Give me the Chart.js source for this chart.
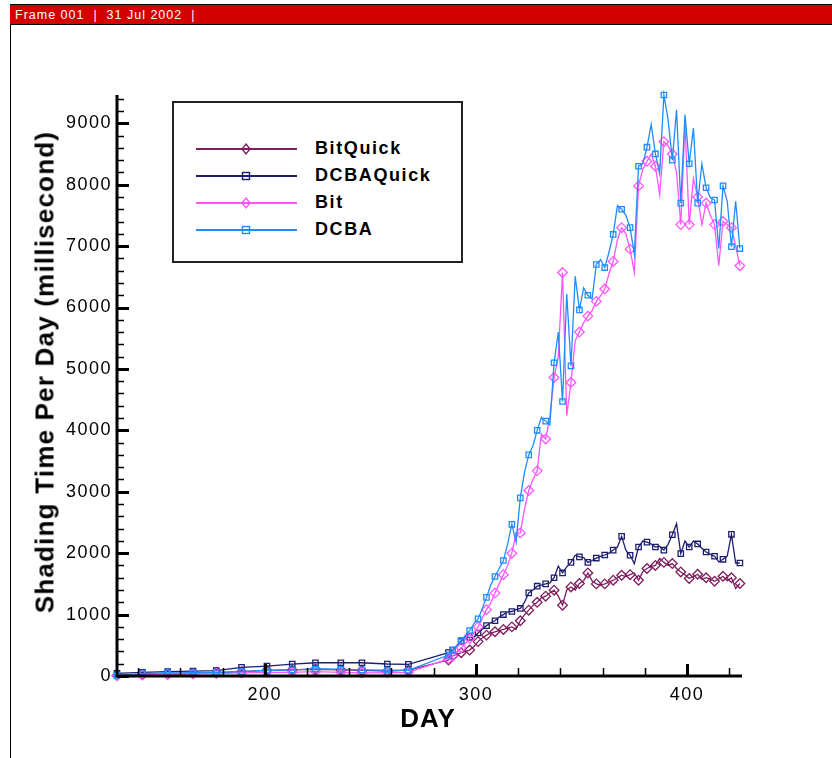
<!DOCTYPE html>
<html><head><meta charset="utf-8">
<script src="https://cdn.jsdelivr.net/npm/chart.js@4.4.0/dist/chart.umd.min.js"></script>
<style>
html,body{margin:0;padding:0;background:#fff;width:832px;height:758px;overflow:hidden;font-family:"Liberation Sans",Arial,sans-serif;}
#wrap{position:relative;width:832px;height:758px;}
#c{position:absolute;left:0;top:0;}
#frameLeft{position:absolute;left:10px;top:5px;width:1px;height:753px;background:#000;}
#bar{position:absolute;left:10px;top:4px;width:822px;height:21px;background:#d40000;border-top:1px solid #000;border-bottom:1px solid #000;color:#fff;font-size:12.5px;line-height:20px;white-space:pre;letter-spacing:1px;padding-left:5px;box-sizing:border-box;}
#legend{position:absolute;left:172px;top:101px;width:291px;height:162px;border:2px solid #222;background:#fff;box-sizing:border-box;}
.row{position:absolute;left:0;height:20px;}
.row svg{position:absolute;left:22px;top:0;}
.row span{position:absolute;left:141px;top:-1px;font-weight:bold;font-size:18px;line-height:20px;letter-spacing:1.6px;color:#000;white-space:nowrap;}
#ytitle{position:absolute;left:45px;top:372px;transform:translate(-50%,-50%) rotate(-90deg);font-weight:bold;font-size:26px;letter-spacing:1.2px;white-space:nowrap;color:#000;}
#xtitle{position:absolute;left:428px;top:718px;transform:translate(-50%,-50%);font-weight:bold;font-size:26px;letter-spacing:1px;white-space:nowrap;color:#000;}
</style></head>
<body>
<div id="wrap">
<canvas id="c" width="832" height="758"></canvas>
<div id="frameLeft"></div>
<div id="bar">Frame 001  |  31 Jul 2002  |</div>
<div id="legend"></div>
<div id="ytitle">Shading Time Per Day (millisecond)</div>
<div id="xtitle">DAY</div>
</div>
<script>
// ---- data ----
const days = [130,142,154,166,177,189,201,213,224,236,246,258,268,287,
  289,291,293,295,297,299,301,303,305,307,
  309,311,313,315,317,319,321,323,325,327,
  329,331,333,335,337,339,341,343,345,347,
  349,351,353,355,357,359,361,363,365,367,
  369,371,373,375,377,379,381,383,385,387,
  389,391,393,395,397,399,401,403,405,407,
  409,411,413,415,417,419,421,423,425];

const bitQuick = [10,20,30,40,55,70,90,100,110,100,90,80,95,260,
  330,350,380,400,422,480,560,620,666,700,
  720,740,758,780,800,760,900,1000,1072,1150,
  1200,1272,1300,1350,1397,1300,1153,1400,1450,1400,
  1506,1550,1678,1550,1500,1478,1500,1530,1560,1600,
  1641,1620,1650,1678,1559,1700,1750,1787,1800,1912,
  1850,1800,1831,1750,1694,1650,1587,1620,1657,1571,
  1600,1580,1543,1580,1624,1550,1600,1425,1506];

const dcbaQuick = [44,60,70,81,87,141,162,195,216,216,216,195,190,380,
  420,480,560,640,630,630,700,760,820,866,
  900,960,1000,1045,1050,1080,1100,1200,1353,1400,
  1462,1480,1500,1516,1600,1787,1678,1776,1850,1966,
  1940,1928,1850,1880,1920,1949,1970,2000,2050,2100,
  2274,2050,1966,1831,2100,2198,2180,2150,2100,2112,
  2050,2144,2300,2480,1993,2198,2100,2198,2150,2080,
  2019,1980,1950,1857,1900,1950,2307,1840,1840];

const bit = [5,15,25,35,40,50,60,60,70,60,50,55,60,280,
  320,390,460,530,610,700,800,940,1080,1190,
  1350,1500,1650,1800,2000,2320,2330,2720,3020,3200,
  3340,3940,3860,4220,4860,5200,6570,4240,4780,5460,
  5600,5750,5860,5950,6100,6190,6300,6550,6750,7100,
  7300,7200,6950,6570,7980,8250,8380,8500,8300,7840,
  8700,8630,8500,8200,7350,9000,7350,8100,7800,7350,
  7700,7500,7350,6680,7400,7350,7300,7000,6680];

const dcba = [10,40,50,55,60,70,90,100,115,110,100,95,90,341,
  420,500,580,660,740,850,930,1100,1280,1480,
  1620,1750,1880,2150,2470,2180,2900,3320,3600,3750,
  4000,4210,4150,4090,5100,5600,4470,6220,5050,6510,
  5960,6320,6200,6140,6700,6780,6650,6900,7190,7660,
  7600,7500,7300,6870,8300,8340,8610,8980,8500,8180,
  9460,9060,8400,9220,7700,9140,8340,8920,7700,8340,
  7950,7790,7750,6960,7980,7730,6990,7730,6960];

const xTicks = [200,300,400];
const yTicks = [0,1000,2000,3000,4000,5000,6000,7000,8000,9000];
const seriesNames = ['BitQuick','DCBAQuick','Bit','DCBA'];
const seriesColors = ['#7e1e5e','#1e1e6e','#ff55ff','#1e8cff'];
const seriesMarkers = ['rectRot','rect','rectRot','rect'];
const seriesValues = [bitQuick, dcbaQuick, bit, dcba];

// ---- legend (HTML) ----
const legend = document.getElementById('legend');
const rowTops = [36, 63, 90, 117];
seriesNames.forEach((name, i) => {
  const row = document.createElement('div');
  row.className = 'row';
  row.style.top = rowTops[i] + 'px';
  const c = seriesColors[i];
  const mk = seriesMarkers[i] === 'rect'
    ? `<rect x="46.5" y="6.5" width="7" height="7" fill="none" stroke="${c}" stroke-width="1.4"/>`
    : `<polygon points="50,5 54,10 50,15 46,10" fill="none" stroke="${c}" stroke-width="1.4"/>`;
  row.innerHTML = `<svg width="101" height="20"><line x1="0" y1="10" x2="101" y2="10" stroke="${c}" stroke-width="2"/>${mk}</svg><span>${name}</span>`;
  legend.appendChild(row);
});

// ---- chart ----
const axesPlugin = {
  id: 'inwardAxes',
  beforeDraw(chart) { chart.ctx.letterSpacing = '1.5px'; },
  afterDraw(chart) {
    const {ctx, chartArea: a, scales: {x, y}} = chart;
    ctx.save();
    ctx.strokeStyle = '#000';
    ctx.lineCap = 'butt';
    ctx.lineWidth = 3;
    ctx.beginPath();
    ctx.moveTo(a.left, a.top); ctx.lineTo(a.left, a.bottom + 1.5);
    ctx.moveTo(a.left - 1.5, a.bottom); ctx.lineTo(a.right, a.bottom);
    ctx.stroke();
    for (let v = 0; v <= y.max; v += 200) {
      const py = Math.round(y.getPixelForValue(v)) + 0.5;
      const major = v % 1000 === 0;
      ctx.lineWidth = major ? 3 : 1.5;
      ctx.beginPath(); ctx.moveTo(a.left, py); ctx.lineTo(a.left + (major ? 12 : 7), py); ctx.stroke();
    }
    for (let v = 140; v <= x.max; v += 20) {
      const px = Math.round(x.getPixelForValue(v)) + 0.5;
      const major = v % 100 === 0;
      ctx.lineWidth = major ? 3 : 1.5;
      ctx.beginPath(); ctx.moveTo(px, a.bottom); ctx.lineTo(px, a.bottom - (major ? 12 : 8)); ctx.stroke();
    }
    ctx.restore();
  }
};

// markers on every early point, every other point in the dense part
const markerShown = k => k < 14 || (k - 14) % 2 === 0;

const datasets = seriesNames.map((name, i) => ({
  label: name,
  data: days.map((d, k) => ({x: d, y: seriesValues[i][k]})),
  borderColor: seriesColors[i],
  borderWidth: 1.3,
  pointStyle: seriesMarkers[i],
  pointRadius: ctx => markerShown(ctx.dataIndex) ? (seriesMarkers[i] === 'rect' ? 3.8 : 4.8) : 0,
  pointBorderWidth: 1.3,
  pointBorderColor: seriesColors[i],
  pointBackgroundColor: 'rgba(255,255,255,0)',
  tension: 0,
  clip: false,
  order: 3 - i
}));

new Chart(document.getElementById('c'), {
  type: 'line',
  data: {datasets},
  options: {
    responsive: false,
    animation: false,
    events: [],
    layout: {padding: {left: 12, top: 95, right: 90, bottom: 20}},
    plugins: {legend: {display: false}, tooltip: {enabled: false}, title: {display: false}},
    scales: {
      x: {
        type: 'linear', min: 130, max: 426,
        grid: {display: false, drawTicks: false},
        border: {display: false},
        afterBuildTicks: s => { s.ticks = xTicks.map(v => ({value: v})); },
        afterFit: s => { s.height = 62; },
        ticks: {font: {family: 'Liberation Sans', size: 18}, color: '#000', padding: 8, maxRotation: 0, autoSkip: false, callback: v => String(v)}
      },
      y: {
        type: 'linear', min: 0, max: 9460,
        grid: {display: false, drawTicks: false},
        border: {display: false},
        afterBuildTicks: s => { s.ticks = yTicks.map(v => ({value: v})); },
        afterFit: s => { s.width = 105; },
        ticks: {font: {family: 'Liberation Sans', size: 18}, color: '#000', padding: 5, autoSkip: false, callback: v => String(v)}
      }
    }
  },
  plugins: [axesPlugin]
});
</script>
</body></html>
